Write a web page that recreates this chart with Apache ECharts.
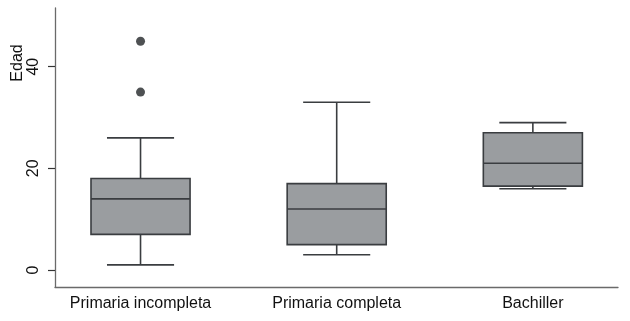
<!DOCTYPE html>
<html>
<head>
<meta charset="utf-8">
<script src="https://cdn.jsdelivr.net/npm/echarts@6/dist/echarts.min.js"></script>
<style>
html,body{margin:0;padding:0;background:#fff;}
#chart{width:630px;height:321px;}
</style>
</head>
<body>
<div id="chart"></div>
<script>
// Data
const categories = ['Primaria incompleta', 'Primaria completa', 'Bachiller'];
const lowerWhisker = [1, 3, 16];
const q1 = [7, 5, 16.5];
const median = [14, 12, 21];
const q3 = [18, 17, 27];
const upperWhisker = [26, 33, 29];
const outliers = [[1, 45], [1, 35]];
const yTicks = [0, 20, 40];

const boxData = categories.map((c, i) => [i + 1, lowerWhisker[i], q1[i], median[i], q3[i], upperWhisker[i]]);

const FONT = '"Liberation Sans", Arial, sans-serif';
const FILL = '#9a9da0';
const STROKE = '#3a3d40';

const chart = echarts.init(document.getElementById('chart'), null, {renderer: 'canvas'});
chart.setOption({
  animation: false,
  backgroundColor: '#ffffff',
  grid: {left: 55, right: 12, top: 8, bottom: 34, containLabel: false},
  xAxis: {
    type: 'value',
    min: 0.564,
    max: 3.434,
    axisLine: {show: true, onZero: false, lineStyle: {color: '#6a6a6a', width: 1.3}},
    axisTick: {show: false},
    splitLine: {show: false},
    axisLabel: {
      customValues: [1, 2, 3],
      formatter: v => categories[Math.round(v) - 1] || '',
      color: '#111',
      fontFamily: FONT,
      fontSize: 16,
      margin: 9
    }
  },
  yAxis: {
    type: 'value',
    min: -3.345,
    max: 51.55,
    axisLine: {show: true, onZero: false, lineStyle: {color: '#6a6a6a', width: 1.3}},
    axisTick: {show: true, customValues: yTicks, length: 7, lineStyle: {color: '#333', width: 1.2}},
    splitLine: {show: false},
    axisLabel: {
      customValues: yTicks,
      rotate: 90,
      color: '#111',
      fontFamily: FONT,
      fontSize: 16,
      margin: 13
    }
  },
  graphic: [{
    type: 'text',
    x: 18, y: 63,
    rotation: Math.PI / 2,
    style: {text: 'Edad', font: '16px ' + FONT, fill: '#111', align: 'center', verticalAlign: 'middle'}
  }],
  series: [{
    type: 'custom',
    data: boxData,
    encode: {x: 0, y: [1, 2, 3, 4, 5]},
    renderItem: function (params, api) {
      const x = api.value(0);
      const boxW = api.size([0.505, 0])[0];
      const capW = api.size([0.342, 0])[0];
      const pLow = api.coord([x, api.value(1)]);
      const pQ1 = api.coord([x, api.value(2)]);
      const pMed = api.coord([x, api.value(3)]);
      const pQ3 = api.coord([x, api.value(4)]);
      const pHigh = api.coord([x, api.value(5)]);
      const cx = pMed[0];
      const ls = {stroke: STROKE, lineWidth: 1.6};
      return {
        type: 'group',
        children: [
          {type: 'line', shape: {x1: cx, y1: pQ3[1], x2: cx, y2: pHigh[1]}, style: ls},
          {type: 'line', shape: {x1: cx, y1: pQ1[1], x2: cx, y2: pLow[1]}, style: ls},
          {type: 'line', shape: {x1: cx - capW / 2, y1: pHigh[1], x2: cx + capW / 2, y2: pHigh[1]}, style: ls},
          {type: 'line', shape: {x1: cx - capW / 2, y1: pLow[1], x2: cx + capW / 2, y2: pLow[1]}, style: ls},
          {type: 'rect', shape: {x: cx - boxW / 2, y: pQ3[1], width: boxW, height: pQ1[1] - pQ3[1]}, style: {fill: FILL, stroke: STROKE, lineWidth: 1.6}},
          {type: 'line', shape: {x1: cx - boxW / 2, y1: pMed[1], x2: cx + boxW / 2, y2: pMed[1]}, style: ls}
        ]
      };
    }
  }, {
    type: 'scatter',
    data: outliers,
    symbol: 'circle',
    symbolSize: 9,
    itemStyle: {color: '#222528'}
  }]
});
</script>
</body>
</html>
